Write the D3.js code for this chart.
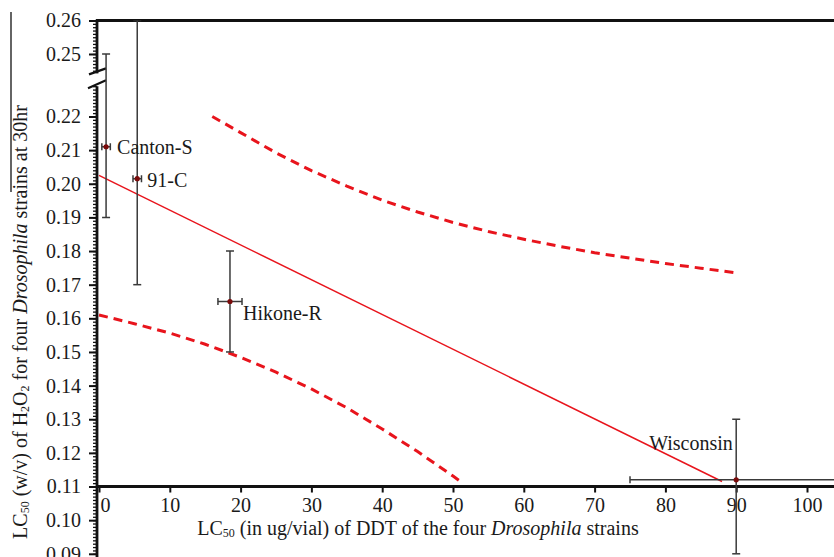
<!DOCTYPE html>
<html>
<head>
<meta charset="utf-8">
<script src="https://cdn.jsdelivr.net/npm/d3@7"></script>
<style>
  html, body { margin: 0; padding: 0; background: #fff; }
  svg { display: block; }
  text { font-family: "Liberation Serif", "Times New Roman", serif; fill: #1a1a1a; }
</style>
</head>
<body>
<svg id="chart" width="834" height="557"></svg>
<script>
// ---------------- data ----------------
const strains = ["Canton-S", "91-C", "Hikone-R", "Wisconsin"];
const ddtLC50 = [1.0, 5.4, 18.5, 90];          // x values
const ddtErr  = [0.6, 0.6, 1.7, 15];            // x error (+/-)
const h2o2LC50 = [0.211, 0.2015, 0.165, 0.112]; // y values
const h2o2Low  = [0.19, 0.17, 0.15, 0.09];      // lower error bound
const h2o2High = [0.25, 0.26, 0.18, 0.13];      // upper error bound

const fitX = [0, 88];
const fitY = [0.2025, 0.1115];

const upperBandX = [16, 20, 25, 30, 35, 40, 45, 50, 55, 60, 65, 70, 75, 80, 85, 90];
const upperBandY = [0.2200, 0.2152, 0.2092, 0.2039, 0.1993, 0.1951, 0.1916, 0.1885, 0.1858, 0.1835, 0.1814, 0.1795, 0.1779, 0.1763, 0.1749, 0.1735];
const lowerBandX = [0, 5, 10, 15, 20, 25, 30, 35, 40, 45, 50, 51.2];
const lowerBandY = [0.1610, 0.1584, 0.1556, 0.1523, 0.1484, 0.1440, 0.1390, 0.1334, 0.1271, 0.1204, 0.1131, 0.1113];

const xTicks = [0, 10, 20, 30, 40, 50, 60, 70, 80, 90, 100];
const yTicksLow = [0.09, 0.10, 0.11, 0.12, 0.13, 0.14, 0.15, 0.16, 0.17, 0.18, 0.19, 0.20, 0.21, 0.22];
const yTicksHigh = [0.25, 0.26];

// label offsets (px) relative to the data point
const labelDx = [11, 10, 13, -87];
const labelDy = [7, 8, 19, -30];

// ---------------- scales ----------------
const svg = d3.select("#chart");
const axisX = 97;
const x = d3.scaleLinear().domain([0, 100]).range([99, 807]);
const yLow = d3.scaleLinear().domain([0.09, 0.229]).range([553.8, 86.2]);
const yHigh = d3.scaleLinear().domain([0.2445, 0.26]).range([72.4, 20.5]);
const Y = v => v <= 0.229 ? yLow(v) : (v >= 0.2445 ? yHigh(v) : 86.2 + (v - 0.229) / (0.2445 - 0.229) * (72.4 - 86.2));
const xAxisY = yLow(0.11);
const topY = yHigh(0.26);

const red = "#e8141c";
const black = "#111";

svg.append("defs").append("clipPath").attr("id", "plot")
  .append("rect").attr("x", 98).attr("y", topY).attr("width", 740).attr("height", 560);

// ---------------- y axis (broken) ----------------
const minorLow = d3.range(90, 230).map(i => i / 1000);
const minorHigh = d3.range(245, 261).map(i => i / 1000);

const gyLow = svg.append("g").attr("transform", `translate(${axisX},0)`);
gyLow.append("g").call(d3.axisLeft(yLow).tickValues(minorLow).tickSize(4).tickFormat(""))
  .call(g => g.select(".domain").remove())
  .call(g => g.selectAll("line").attr("stroke", black).attr("stroke-width", 1.3));
gyLow.append("g").call(d3.axisLeft(yLow).tickValues(yTicksLow).tickSize(8).tickPadding(8).tickFormat(d3.format(".2f")))
  .call(g => g.select(".domain").remove())
  .call(g => g.selectAll("line").attr("stroke", black).attr("stroke-width", 2))
  .call(g => g.selectAll("text").attr("font-size", 20).attr("font-family", "Liberation Serif, serif").attr("fill", "#1a1a1a"));

const gyHigh = svg.append("g").attr("transform", `translate(${axisX},0)`);
gyHigh.append("g").call(d3.axisLeft(yHigh).tickValues(minorHigh).tickSize(4).tickFormat(""))
  .call(g => g.select(".domain").remove())
  .call(g => g.selectAll("line").attr("stroke", black).attr("stroke-width", 1.3));
gyHigh.append("g").call(d3.axisLeft(yHigh).tickValues(yTicksHigh).tickSize(8).tickPadding(8).tickFormat(d3.format(".2f")))
  .call(g => g.select(".domain").remove())
  .call(g => g.selectAll("line").attr("stroke", black).attr("stroke-width", 2))
  .call(g => g.selectAll("text").attr("font-size", 20).attr("font-family", "Liberation Serif, serif").attr("fill", "#1a1a1a"));

// axis line segments
svg.append("line").attr("x1", axisX).attr("x2", axisX).attr("y1", topY - 1).attr("y2", yHigh(0.2445) + 1)
  .attr("stroke", black).attr("stroke-width", 2.8);
svg.append("line").attr("x1", axisX).attr("x2", axisX).attr("y1", yLow(0.229)).attr("y2", 557)
  .attr("stroke", black).attr("stroke-width", 2.8);
// break marks
svg.append("line").attr("x1", axisX - 8).attr("y1", yHigh(0.2445) + 2).attr("x2", axisX + 9).attr("y2", yHigh(0.2445) - 4)
  .attr("stroke", black).attr("stroke-width", 2.2);
svg.append("line").attr("x1", axisX - 9).attr("y1", yLow(0.229) + 2).attr("x2", axisX + 9).attr("y2", yLow(0.229) - 6)
  .attr("stroke", black).attr("stroke-width", 2.2);

// ---------------- x axis & top border ----------------
const gx = svg.append("g").attr("transform", `translate(0,${xAxisY})`)
  .call(d3.axisBottom(x).tickValues(xTicks).tickSize(6).tickPadding(5).tickFormat(d3.format("d")))
  .call(g => g.select(".domain").remove())
  .call(g => g.selectAll("line").attr("stroke", black).attr("stroke-width", 2))
  .call(g => g.selectAll("text").attr("font-size", 20).attr("font-family", "Liberation Serif, serif").attr("fill", "#1a1a1a"));
gx.selectAll(".tick text").filter(d => d === 0).attr("dx", 6);

svg.append("line").attr("x1", axisX - 1).attr("x2", 834).attr("y1", xAxisY).attr("y2", xAxisY)
  .attr("stroke", black).attr("stroke-width", 2.8);
svg.append("line").attr("x1", axisX - 1).attr("x2", 834).attr("y1", topY).attr("y2", topY)
  .attr("stroke", black).attr("stroke-width", 2.8);

// ---------------- regression + confidence bands ----------------
const plot = svg.append("g").attr("clip-path", "url(#plot)");
const lineGen = d3.line().x(d => x(d[0])).y(d => Y(d[1]));

plot.append("path").datum(d3.zip(upperBandX, upperBandY)).attr("d", lineGen)
  .attr("fill", "none").attr("stroke", red).attr("stroke-width", 3).attr("stroke-dasharray", "9,6");
plot.append("path").datum(d3.zip(lowerBandX, lowerBandY)).attr("d", lineGen)
  .attr("fill", "none").attr("stroke", red).attr("stroke-width", 3).attr("stroke-dasharray", "9,6");
plot.append("path").datum(d3.zip(fitX, fitY)).attr("d", lineGen)
  .attr("fill", "none").attr("stroke", red).attr("stroke-width", 1.5);

// ---------------- error bars and points ----------------
const ebColor = "#3a3a3a";
strains.forEach((s, i) => {
  const px = x(ddtLC50[i]), py = Y(h2o2LC50[i]);
  const g = plot.append("g");
  // vertical
  g.append("line").attr("x1", px).attr("x2", px).attr("y1", Y(h2o2Low[i])).attr("y2", Y(h2o2High[i]))
    .attr("stroke", ebColor).attr("stroke-width", 1.5);
  [h2o2Low[i], h2o2High[i]].forEach(v => {
    g.append("line").attr("x1", px - 4).attr("x2", px + 4).attr("y1", Y(v)).attr("y2", Y(v))
      .attr("stroke", ebColor).attr("stroke-width", 1.5);
  });
  // horizontal
  const xl = x(ddtLC50[i] - ddtErr[i]), xr = x(ddtLC50[i] + ddtErr[i]);
  g.append("line").attr("x1", xl).attr("x2", xr).attr("y1", py).attr("y2", py)
    .attr("stroke", ebColor).attr("stroke-width", 1.5);
  [xl, xr].forEach(xx => {
    g.append("line").attr("x1", xx).attr("x2", xx).attr("y1", py - 3.5).attr("y2", py + 3.5)
      .attr("stroke", ebColor).attr("stroke-width", 1.5);
  });
  g.append("circle").attr("cx", px).attr("cy", py).attr("r", 2.6).attr("fill", "#7a0a0a");
  svg.append("text").attr("x", px + labelDx[i]).attr("y", py + labelDy[i])
    .attr("font-size", 20).text(s);
});

// ---------------- titles ----------------
const xt = svg.append("text").attr("x", 418).attr("y", 535).attr("text-anchor", "middle").attr("font-size", 20);
xt.append("tspan").text("LC");
xt.append("tspan").attr("font-size", 12).attr("dy", 2).text("50");
xt.append("tspan").attr("dy", -2).text(" (in ug/vial) of DDT of the four ");
xt.append("tspan").attr("font-style", "italic").text("Drosophila");
xt.append("tspan").text(" strains");

const yt = svg.append("text").attr("transform", "translate(27,322) rotate(-90)").attr("text-anchor", "middle").attr("font-size", 20);
yt.append("tspan").text("LC");
yt.append("tspan").attr("font-size", 12).attr("dy", 2).text("50");
yt.append("tspan").attr("dy", -2).text(" (w/v) of H");
yt.append("tspan").attr("font-size", 12).attr("dy", 2).text("2");
yt.append("tspan").attr("dy", -2).text("O");
yt.append("tspan").attr("font-size", 12).attr("dy", 2).text("2");
yt.append("tspan").attr("dy", -2).text(" for four ");
yt.append("tspan").attr("font-style", "italic").text("Drosophila");
yt.append("tspan").text(" strains at 30hr");

// stray vertical rule at the far left of the original figure
svg.append("line").attr("x1", 11).attr("x2", 11).attr("y1", 12).attr("y2", 192)
  .attr("stroke", black).attr("stroke-width", 1.3);
</script>
</body>
</html>
